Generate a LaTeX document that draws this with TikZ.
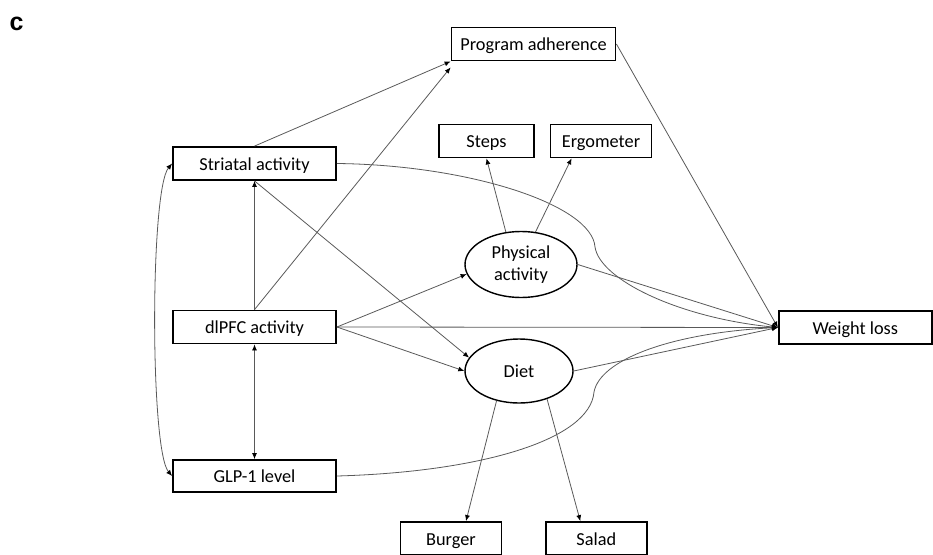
\documentclass[tikz,border=0pt]{standalone}
\usepackage{fontspec}
\setmainfont{Carlito}
\newfontfamily\labelfont{Liberation Sans}
\usetikzlibrary{arrows.meta,shapes.geometric,calc}
\begin{document}
\begin{tikzpicture}[x=1pt,y=-1pt,
  box/.style={draw=black, line width=1.8pt, rectangle, inner sep=0pt, minimum height=33pt, text height=13pt, text depth=0pt, font=\fontsize{18.3}{22}\selectfont},
  oval/.style={draw=black, line width=1.4pt, ellipse, inner sep=0pt, align=center, font=\fontsize{18.3}{22}\selectfont},
  tip/.tip={Latex[length=6pt,width=5pt,color=black]},
  link/.style={draw=black!65, line width=0.8pt, -tip},
  both/.style={draw=black!65, line width=0.8pt, tip-tip}]
\clip (0,0) rectangle (933,554);
\node[font=\labelfont\bfseries\fontsize{25}{27}\selectfont, inner sep=0pt] (lbl) at (16.5,23.5) {c};

\node[box, minimum width=164pt] (prog) at (533.5,44) {Program adherence};
\node[box, minimum width=163pt] (striatal) at (254.5,163.5) {Striatal activity};
\node[box, minimum width=163pt] (dlpfc) at (254.5,327) {dlPFC activity};
\node[box, minimum width=163pt, minimum height=32pt] (glp) at (254.5,476) {GLP-1 level};
\node[box, minimum width=95pt] (steps) at (486.5,141) {Steps};
\node[box, minimum width=101pt] (ergo) at (601,141) {Ergometer};
\node[box, minimum width=153pt] (weight) at (855.3,327.5) {Weight loss};
\node[box, minimum width=101pt] (burger) at (451,538.5) {Burger};
\node[box, minimum width=101pt] (salad) at (596.3,538.5) {Salad};
\node[oval, minimum width=112pt, minimum height=66pt] (phys) at (521,264.5) {Physical\\activity};
\node[oval, minimum width=108pt, minimum height=64pt] (diet) at (519,371) {Diet};

\coordinate (sbend) at (595,247);
\coordinate (gbend) at (594,392);

% to program adherence
\draw[link] (striatal.north) -- (prog.south west);
\draw[link] (dlpfc.north) -- ($(prog.south west)+(0,6)$);
% dlPFC
\draw[link] (dlpfc.north) -- (striatal.south);
\draw[link] (striatal.south) -- (diet.165);
\draw[link] (dlpfc.east) -- (phys.190);
\draw[link] (dlpfc.east) -- (diet.west);
\draw[link] (dlpfc.east) -- (weight.west);
\draw[both] (dlpfc.south) -- (glp.north);
\draw[both] (glp.west) .. controls (150,450) and (150,190) .. (striatal.west);
% indicators
\draw[link] (phys.115) -- (steps.south);
\draw[link] (phys.66) -- ($(ergo.south west)+(22,0)$);
\draw[link] (diet.233) -- ($(burger.north)+(15,0)$);
\draw[link] (diet.315) -- ($(salad.north)+(-16,0)$);
% to weight loss
\draw[link] (phys.east) -- (weight.west);
\draw[link] (diet.east) -- (weight.west);
\draw[link] (prog.east) -- (weight.west);
\draw[link] (striatal.east) .. controls (470,165) and (592,205) .. (sbend)
  .. controls (600,280) and (680,318) .. (weight.west);
\draw[link] (glp.east) .. controls (480,472) and (590,440) .. (gbend)
  .. controls (600,360) and (670,333) .. (weight.west);
\end{tikzpicture}
\end{document}
